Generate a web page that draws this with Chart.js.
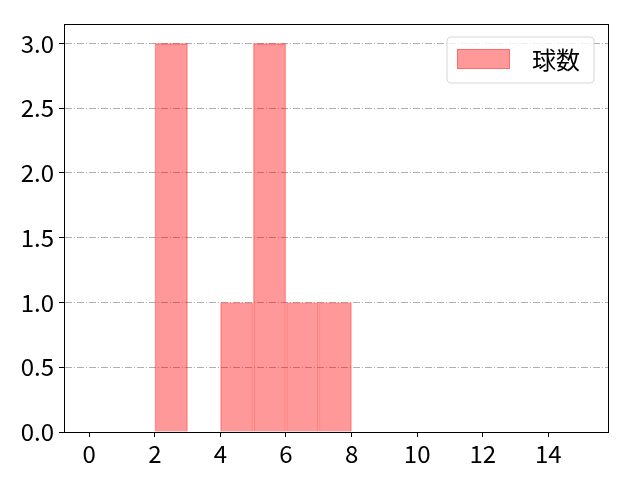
<!DOCTYPE html>
<html>
<head>
<meta charset="utf-8">
<script src="https://cdn.jsdelivr.net/npm/chart.js@4.4.0/dist/chart.umd.min.js"></script>
<style>
html,body{margin:0;padding:0;background:#fff;}
#wrap{width:640px;height:480px;}
</style>
</head>
<body>
<div id="wrap"><canvas id="c" width="640" height="480"></canvas></div>
<script>
// ---- data ----
const seriesLabel = "球数";
const binCenters = [2.5, 4.5, 5.5, 6.5, 7.5];
const counts = [3, 1, 3, 1, 1];
const xTicks = [0, 2, 4, 6, 8, 10, 12, 14];
const yTicks = [0, 0.5, 1.0, 1.5, 2.0, 2.5, 3.0];
const xRange = [-0.77, 15.82];
const yRange = [0, 3.15];

const FONT = "'Noto Sans CJK JP', 'Noto Sans', sans-serif";

const framePlugin = {
  id: 'frameAndLegend',
  afterDraw(chart) {
    const ctx = chart.ctx;
    const a = chart.chartArea;
    ctx.save();
    ctx.strokeStyle = '#000';
    ctx.lineWidth = 1;
    ctx.strokeRect(Math.round(a.left) + 0.5, Math.round(a.top) + 0.5,
                   Math.round(a.right - a.left), Math.round(a.bottom - a.top));
    // legend
    const ds = chart.data.datasets[0];
    const bx = a.right - 161, by = a.top + 13, bw = 147, bh = 46, r = 4;
    ctx.beginPath();
    ctx.moveTo(bx + r, by);
    ctx.arcTo(bx + bw, by, bx + bw, by + bh, r);
    ctx.arcTo(bx + bw, by + bh, bx, by + bh, r);
    ctx.arcTo(bx, by + bh, bx, by, r);
    ctx.arcTo(bx, by, bx + bw, by, r);
    ctx.closePath();
    ctx.fillStyle = 'rgba(255,255,255,0.8)';
    ctx.fill();
    ctx.strokeStyle = '#d6d6d6';
    ctx.lineWidth = 1;
    ctx.stroke();
    ctx.fillStyle = ds.backgroundColor;
    ctx.fillRect(bx + 10, by + 12, 53, 20);
    ctx.strokeStyle = ds.borderColor;
    ctx.strokeRect(bx + 10.5, by + 12.5, 52, 19);
    ctx.fillStyle = '#000';
    ctx.font = '24px ' + FONT;
    ctx.textBaseline = 'middle';
    ctx.textAlign = 'left';
    ctx.fillText(ds.label, bx + 85, by + 23);
    ctx.restore();
  }
};

new Chart(document.getElementById('c'), {
  type: 'bar',
  data: {
    datasets: [{
      label: seriesLabel,
      data: binCenters.map((x, i) => ({x: x, y: counts[i]})),
      backgroundColor: 'rgba(255,0,0,0.4)',
      borderColor: 'rgba(255,0,0,0.3)',
      borderWidth: 1,
      borderSkipped: 'start',
      categoryPercentage: 1.0,
      barPercentage: 1.0
    }]
  },
  options: {
    responsive: false,
    animation: false,
    devicePixelRatio: 1,
    layout: {padding: {left: 0, right: 32, top: 24, bottom: 0}},
    plugins: {legend: {display: false}, tooltip: {enabled: false}},
    scales: {
      x: {
        type: 'linear',
        offset: false,
        min: xRange[0], max: xRange[1],
        afterBuildTicks: s => { s.ticks = xTicks.map(v => ({value: v})); },
        afterFit: s => { s.height = 48; },
        grid: {offset: false, drawOnChartArea: false, drawTicks: true, tickLength: 5, tickColor: '#000', tickWidth: 1},
        border: {display: true, color: '#000', width: 1},
        ticks: {color: '#000', font: {family: FONT, size: 24}, padding: 2, maxRotation: 0,
                autoSkip: false, callback: v => String(v)}
      },
      y: {
        type: 'linear',
        min: yRange[0], max: yRange[1],
        afterBuildTicks: s => { s.ticks = yTicks.map(v => ({value: v})); },
        afterFit: s => { s.width = 64; },
        grid: {color: '#b0b0b0', lineWidth: 1, drawTicks: true, tickLength: 5, tickColor: '#000', tickWidth: 1},
        border: {display: true, color: '#000', width: 1, dash: [7, 2, 1, 2]},
        ticks: {color: '#000', font: {family: FONT, size: 24}, padding: 5,
                autoSkip: false, callback: v => Number(v).toFixed(1)}
      }
    }
  },
  plugins: [framePlugin]
});
</script>
</body>
</html>
